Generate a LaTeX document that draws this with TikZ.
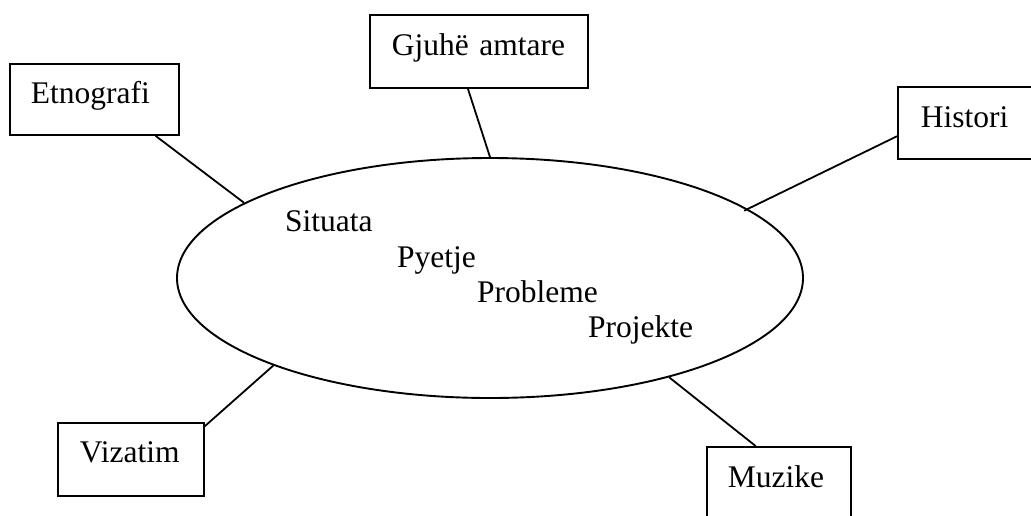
\documentclass[tikz,border=0pt]{standalone}
\usepackage{fontspec}
\setmainfont{Liberation Serif}
\usetikzlibrary{shapes.geometric,calc}

\tikzset{
  txt/.style={font=\fontsize{31.5}{36}\selectfont, inner sep=0pt},
  boxed/.style={txt, draw, line width=1.9pt, align=left, anchor=north west},
  link/.style={line width=1.8pt},
}

\begin{document}
\begin{tikzpicture}[x=1pt, y=-1pt]
  \useasboundingbox (0,0) rectangle (1031,515);

  % central ellipse and its four lines of text
  \node[draw, line width=1.9pt, ellipse, minimum width=626pt, minimum height=240pt, inner sep=0pt]
    (core) at (490,278) {};
  \node[txt, anchor=base west] (sit) at (285,231) {Situata};
  \node[txt, anchor=base west] (pye) at (397,267) {Pyetje};
  \node[txt, anchor=base west] (pro) at (477,302) {Probleme};
  \node[txt, anchor=base west] (prj) at (588,337) {Projekte};

  % subject boxes around it
  \node[boxed, text width=169pt, text height=40pt, text depth=31pt] (etno) at (9,63)
    {\hspace*{21pt}Etnografi};
  \node[boxed, text width=218pt, text height=41pt, text depth=32pt] (gjuhe) at (369,14)
    {\hspace*{22pt}\mbox{Gjuhë amtare}};
  \node[boxed, text width=150pt, text height=41pt, text depth=31pt] (hist) at (897,86)
    {\hspace*{23pt}Histori};
  \node[boxed, text width=146pt, text height=40pt, text depth=33pt] (viz) at (57,422)
    {\hspace*{22pt}Vizatim};
  \node[boxed, text width=144pt, text height=41pt, text depth=43pt] (muz) at (706,446)
    {\hspace*{21pt}Muzike};

  % spokes from the boxes to the ellipse
  \draw[link] ($(etno.south west)!0.858!(etno.south east)$) -- (core.163);
  \draw[link] ($(gjuhe.south west)!0.45!(gjuhe.south east)$) -- (core.north);
  \draw[link, shorten >=-4pt] ($(hist.north west)!0.68!(hist.south west)$) -- (core.15.3);
  \draw[link] ($(viz.north east)!0.055!(viz.south east)$) -- (core.202.7);
  \draw[link] ($(muz.north west)!0.34!(muz.north east)$) -- (core.-29.6);
\end{tikzpicture}
\end{document}
